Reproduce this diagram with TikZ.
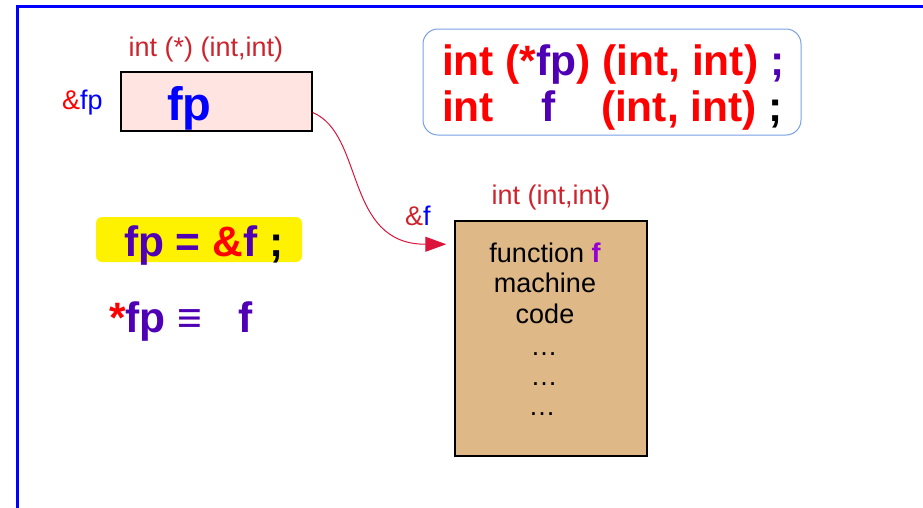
\documentclass[tikz,border=0pt]{standalone}
\usepackage{fontspec}
\setmainfont{Liberation Sans}
\usetikzlibrary{calc,arrows.meta}

\definecolor{labred}{RGB}{205,35,45}
\definecolor{declred}{RGB}{255,0,0}
\definecolor{indig}{RGB}{80,0,180}
\definecolor{fviolet}{RGB}{148,0,211}
\definecolor{ptrpink}{RGB}{255,228,225}
\definecolor{codebrown}{RGB}{222,184,135}
\definecolor{declborder}{RGB}{120,160,230}
\definecolor{linkred}{RGB}{220,20,60}

\tikzset{
  txt/.style={inner sep=0pt, outer sep=0pt},
  lbl/.style={txt, font=\fontsize{27}{32}\selectfont},
  big/.style={txt, font=\fontsize{42.5}{48}\selectfont\bfseries},
  cell/.style={draw=black, line width=1.5pt, inner sep=0pt},
  link/.style={draw=linkred, line width=1pt, -{Triangle[length=21pt,width=15pt]}},
}

\begin{document}
\begin{tikzpicture}[x=1pt,y=-1pt]
  \useasboundingbox (0,0) rectangle (923,507);
  \clip (0,0) rectangle (923,507);

  % page frame
  \draw[blue, line width=3.2pt] (17.5,530) -- (17.5,6.5) -- (940,6.5);

  % pointer variable fp
  \node[lbl, text=labred, anchor=base] (fptype) at (206,56) {int (*) (int,int)};
  \node[cell, fill=ptrpink, minimum width=191pt, minimum height=59pt] (fpbox) at (216.5,101.5) {};
  \node[txt, anchor=base west, font=\fontsize{47}{52}\selectfont\bfseries, text=blue] (fpname) at (167,120) {fp};
  \node[lbl, anchor=base west] (fpaddr) at (62,109) {\textcolor{declred}{\&}\textcolor{blue}{fp}};

  % declarations
  \node[draw=declborder, line width=1pt, rounded corners=15pt, minimum width=378pt, minimum height=106pt] (decl) at (612,82) {};
  \node[big, anchor=base west, text=declred] (decla) at (442,75)
    {int (*\textcolor{indig}{fp}) (int, int) \textcolor{indig}{;}};
  \node[big, anchor=base west, text=declred] (declb) at (442,121) {int};
  \node[big, anchor=base west, text=indig] (declf) at (541,121) {f};
  \node[big, anchor=base west, text=declred] (declc) at (601,121) {(int, int) \textcolor{black}{;}};

  % function f in memory
  \node[lbl, text=labred, anchor=base] (ftype) at (551,204) {int (int,int)};
  \node[cell, fill=codebrown, minimum width=192pt, minimum height=235pt] (codebox) at (551,338.5) {};
  \node[lbl, anchor=base] (c1) at (545,262) {function \textcolor{fviolet}{\bfseries f}};
  \node[lbl, anchor=base] (c2) at (545,292) {machine};
  \node[lbl, anchor=base] (c3) at (545,323) {code};
  \node[lbl, anchor=base] (c4) at (544,355) {\dots};
  \node[lbl, anchor=base] (c5) at (544,385) {\dots};
  \node[lbl, anchor=base] (c6) at (542,415) {\dots};
  \node[lbl, anchor=base west] (faddr) at (405,225) {\textcolor{labred}{\&}\textcolor{blue}{f}};

  % pointer link
  \coordinate (l0) at ($(fpbox.east)+(0,11)$);
  \coordinate (l1) at ($(codebox.north west)+(-8,24)$);
  \draw[link] (l0) .. controls ($(l0)+(52,22)$) and ($(l1)+(-102,0)$) .. (l1);

  % assignment and equivalence
  \node[fill=yellow, rounded corners=6pt, minimum width=206pt, minimum height=45pt, inner sep=0pt] (assignbg) at (199,239.5) {};
  \node[big, anchor=base west, text=indig] (assign) at (124,256)
    {fp = \textcolor{declred}{\&}f \textcolor{black}{;}};
  \node[big, anchor=base west, text=indig] (deref) at (109,332)
    {\textcolor{declred}{*}fp ≡};
  \node[big, anchor=base west, text=indig] (derefF) at (238,332) {f};
\end{tikzpicture}
\end{document}
